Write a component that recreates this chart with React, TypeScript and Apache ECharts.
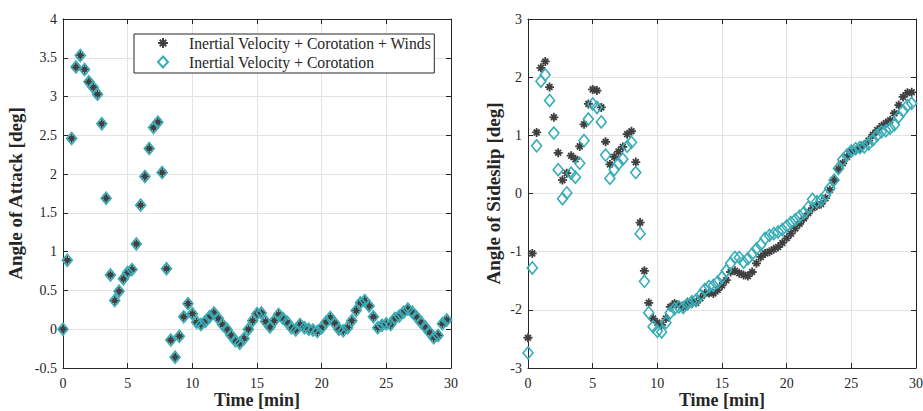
import React, { useEffect, useRef } from "react";
import * as echarts from "echarts";

// Sample spacing of the telemetry (20 s = 1/3 min)
const TIME_STEP_MIN = 1 / 3;

const X_MIN = 0;
const X_MAX = 30;
const X_INTERVAL = 5;

const AOA_MIN = -0.5;
const AOA_MAX = 4;
const AOA_INTERVAL = 0.5;

const SS_MIN = -3;
const SS_MAX = 3;
const SS_INTERVAL = 1;

const SERIES_NAMES = [
  "Inertial Velocity + Corotation + Winds",
  "Inertial Velocity + Corotation",
];

const aoaWinds = [
  0.0, 0.89, 2.46, 3.38, 3.53, 3.35, 3.19, 3.12, 3.03, 2.65,
  1.69, 0.7, 0.37, 0.49, 0.65, 0.73, 0.77, 1.1, 1.6, 1.97,
  2.33, 2.6, 2.67, 2.02, 0.78, -0.14, -0.36, -0.09, 0.16, 0.33,
  0.2, 0.09, 0.06, 0.1, 0.16, 0.21, 0.14, 0.06, 0.0, -0.08,
  -0.15, -0.18, -0.12, 0.0, 0.11, 0.2, 0.21, 0.1, 0.03, 0.11,
  0.19, 0.14, 0.09, 0.02, -0.01, 0.06, 0.02, 0.0, -0.01, -0.03,
  0.02, 0.09, 0.15, 0.08, 0.0, -0.02, 0.02, 0.11, 0.24, 0.34,
  0.37, 0.3, 0.16, 0.02, 0.05, 0.07, 0.06, 0.14, 0.17, 0.22,
  0.26, 0.22, 0.16, 0.09, 0.03, -0.04, -0.11, -0.08, 0.07, 0.12,
];

const aoaNoWinds = [
  0.0, 0.89, 2.46, 3.38, 3.53, 3.35, 3.19, 3.12, 3.03, 2.65,
  1.69, 0.7, 0.37, 0.49, 0.65, 0.73, 0.77, 1.1, 1.6, 1.97,
  2.33, 2.6, 2.67, 2.02, 0.78, -0.14, -0.36, -0.09, 0.16, 0.33,
  0.2, 0.09, 0.06, 0.1, 0.16, 0.21, 0.14, 0.06, 0.0, -0.08,
  -0.15, -0.18, -0.12, 0.0, 0.11, 0.2, 0.21, 0.1, 0.03, 0.11,
  0.19, 0.14, 0.09, 0.02, -0.01, 0.06, 0.02, 0.0, -0.01, -0.03,
  0.02, 0.09, 0.15, 0.08, 0.0, -0.02, 0.02, 0.11, 0.24, 0.34,
  0.37, 0.3, 0.16, 0.02, 0.05, 0.07, 0.06, 0.14, 0.17, 0.22,
  0.26, 0.22, 0.16, 0.09, 0.03, -0.04, -0.11, -0.08, 0.07, 0.12,
];

const sideslipWinds = [
  -2.48, -1.03, 1.05, 2.16, 2.27, 1.83, 1.31, 0.7, 0.23, 0.35,
  0.65, 0.59, 0.81, 1.19, 1.54, 1.79, 1.77, 1.48, 0.89, 0.5,
  0.63, 0.72, 0.8, 1.02, 1.07, 0.54, -0.5, -1.33, -1.88, -2.15,
  -2.22, -2.26, -2.15, -1.95, -1.89, -1.92, -1.95, -1.89, -1.86, -1.88,
  -1.8, -1.72, -1.71, -1.72, -1.66, -1.58, -1.49, -1.35, -1.33, -1.37,
  -1.4, -1.42, -1.35, -1.2, -1.09, -1.03, -1.0, -0.96, -0.92, -0.85,
  -0.77, -0.69, -0.6, -0.52, -0.43, -0.34, -0.25, -0.21, -0.18, -0.08,
  0.06, 0.23, 0.42, 0.52, 0.63, 0.72, 0.75, 0.78, 0.84, 0.91,
  1.01, 1.09, 1.16, 1.21, 1.26, 1.38, 1.52, 1.66, 1.73, 1.74,
];

const sideslipNoWinds = [
  -2.74, -1.28, 0.82, 1.93, 2.04, 1.6, 1.04, 0.41, -0.09, 0.01,
  0.35, 0.28, 0.52, 0.91, 1.28, 1.54, 1.48, 1.23, 0.66, 0.26,
  0.41, 0.51, 0.59, 0.81, 0.88, 0.36, -0.69, -1.51, -2.05, -2.29,
  -2.37, -2.38, -2.22, -2.05, -1.98, -1.95, -1.96, -1.9, -1.86, -1.83,
  -1.75, -1.65, -1.6, -1.58, -1.52, -1.44, -1.33, -1.2, -1.1, -1.1,
  -1.18, -1.12, -1.04, -0.95, -0.88, -0.77, -0.72, -0.69, -0.66, -0.62,
  -0.56, -0.5, -0.45, -0.39, -0.33, -0.24, -0.1, -0.14, -0.11, -0.03,
  0.09, 0.23, 0.43, 0.58, 0.66, 0.73, 0.77, 0.79, 0.8, 0.85,
  0.92, 1.0, 1.06, 1.08, 1.12, 1.18, 1.32, 1.42, 1.51, 1.55,
];

const AXIS_COLOR = "#262626";
const GRID_COLOR = "#e3e3e3";
const STAR_COLOR = "#404040";
const DIAMOND_COLOR = "#37adb8";
const FONT = "Liberation Serif";

const STAR_PATH =
  "path://M0 4L10 4L10 6L0 6Z M4 0L6 0L6 10L4 10Z M2.46 1.04L8.96 7.54L7.54 8.96L1.04 2.46Z M1.04 7.54L7.54 1.04L8.96 2.46L2.46 8.96Z";

const toPoints = (vals: number[]) => vals.map((v, i) => [i * TIME_STEP_MIN, v]);

function makeXAxes(gridIndex: number) {
  const base = {
    type: "value",
    gridIndex,
    min: X_MIN,
    max: X_MAX,
    interval: X_INTERVAL,
    axisLine: { show: true, onZero: false, lineStyle: { color: AXIS_COLOR, width: 1 } },
    axisTick: { show: true, inside: true, length: 5, lineStyle: { color: AXIS_COLOR, width: 1 } },
  };
  return [
    {
      ...base,
      position: "bottom",
      axisLabel: { color: AXIS_COLOR, fontFamily: FONT, fontSize: 14, margin: 8 },
      splitLine: { show: true, lineStyle: { color: GRID_COLOR, width: 1 } },
      name: "Time [min]",
      nameLocation: "middle",
      nameGap: 23,
      nameMoveOverlap: false,
      nameTextStyle: { fontFamily: FONT, fontSize: 18, fontWeight: "bold", color: AXIS_COLOR },
    },
    {
      ...base,
      position: "top",
      axisLabel: { show: false },
      splitLine: { show: false },
    },
  ];
}

function makeYAxes(gridIndex: number, min: number, max: number, interval: number, name: string, nameGap: number) {
  const base = {
    type: "value",
    gridIndex,
    min,
    max,
    interval,
    axisLine: { show: true, onZero: false, lineStyle: { color: AXIS_COLOR, width: 1 } },
    axisTick: { show: true, inside: true, length: 5, lineStyle: { color: AXIS_COLOR, width: 1 } },
  };
  return [
    {
      ...base,
      position: "left",
      axisLabel: { color: AXIS_COLOR, fontFamily: FONT, fontSize: 14, margin: 6 },
      splitLine: { show: true, lineStyle: { color: GRID_COLOR, width: 1 } },
      name,
      nameLocation: "middle",
      nameGap,
      nameTextStyle: { fontFamily: FONT, fontSize: 19, fontWeight: "bold", color: AXIS_COLOR },
    },
    {
      ...base,
      position: "right",
      axisLabel: { show: false },
      splitLine: { show: false },
    },
  ];
}

function starSeries(xAxisIndex: number, yAxisIndex: number, vals: number[]) {
  return {
    type: "scatter",
    name: SERIES_NAMES[0],
    xAxisIndex,
    yAxisIndex,
    symbol: STAR_PATH,
    symbolSize: 9,
    itemStyle: { color: STAR_COLOR, opacity: 1 },
    data: toPoints(vals),
    z: 2,
  };
}

function diamondSeries(xAxisIndex: number, yAxisIndex: number, vals: number[]) {
  return {
    type: "scatter",
    name: SERIES_NAMES[1],
    xAxisIndex,
    yAxisIndex,
    symbol: "diamond",
    symbolSize: [10, 12],
    itemStyle: { color: "rgba(0,0,0,0)", borderColor: DIAMOND_COLOR, borderWidth: 1.6, opacity: 1 },
    data: toPoints(vals),
    z: 3,
  };
}

export default function App() {
  const ref = useRef<HTMLDivElement>(null);

  useEffect(() => {
    if (!ref.current) return;
    const chart = echarts.init(ref.current, undefined, { renderer: "svg" });
    const option = {
      animation: false,
      backgroundColor: "#ffffff",
      textStyle: { fontFamily: FONT },
      grid: [
        { left: 63, top: 19, width: 388, height: 349, containLabel: false, outerBoundsMode: "none" },
        { left: 528, top: 19, width: 388, height: 349, containLabel: false, outerBoundsMode: "none" },
      ],
      xAxis: [...makeXAxes(0), ...makeXAxes(1)],
      yAxis: [
        ...makeYAxes(0, AOA_MIN, AOA_MAX, AOA_INTERVAL, "Angle of Attack [deg]", 38),
        ...makeYAxes(1, SS_MIN, SS_MAX, SS_INTERVAL, "Angle of Sideslip [deg]", 25),
      ],
      legend: {
        left: 134,
        top: 34,
        orient: "vertical",
        data: SERIES_NAMES,
        itemWidth: 10,
        itemHeight: 11,
        itemGap: 3,
        padding: [1, 3, 3, 23],
        borderColor: AXIS_COLOR,
        borderWidth: 1,
        backgroundColor: "#ffffff",
        selectedMode: false,
        textStyle: { fontFamily: FONT, fontSize: 15.7, color: AXIS_COLOR, padding: [0, 0, 0, 16] },
      },
      series: [
        starSeries(0, 0, aoaWinds),
        diamondSeries(0, 0, aoaNoWinds),
        starSeries(2, 2, sideslipWinds),
        diamondSeries(2, 2, sideslipNoWinds),
      ],
    };
    chart.setOption(option as any);
    return () => chart.dispose();
  }, []);

  return (
    <div
      ref={ref}
      style={{ position: "fixed", left: 0, top: 0, width: 923, height: 411, background: "#fff" }}
    />
  );
}
